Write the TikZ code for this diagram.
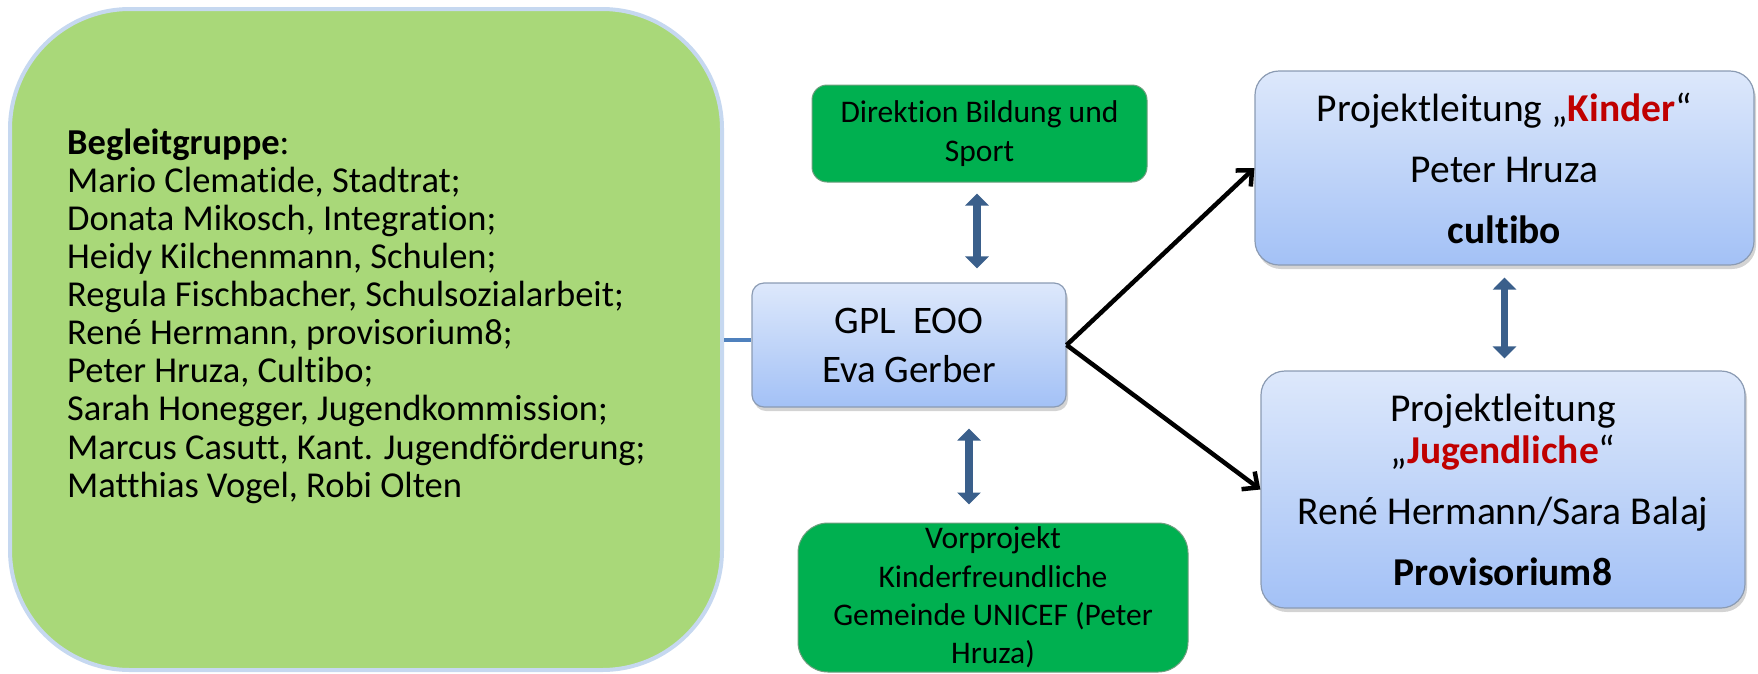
\documentclass[tikz,border=0pt]{standalone}
\usepackage{fontspec}
\setmainfont{Carlito}[Ligatures={TeX,NoCommon}]
\usetikzlibrary{arrows.meta,shadows}

\definecolor{leafgreen}{HTML}{A9D879}
\definecolor{leafedge}{HTML}{C6D8F0}
\definecolor{boxgreen}{HTML}{00B050}
\definecolor{greenedge}{HTML}{6E9E7E}
\definecolor{paletop}{HTML}{DDE8FB}
\definecolor{palebot}{HTML}{A3C1F6}
\definecolor{boxedge}{HTML}{8B9BB3}
\definecolor{steel}{HTML}{3A5F8B}
\definecolor{linkblue}{HTML}{4F81BD}
\definecolor{kred}{HTML}{C00000}

\begin{document}
\begin{tikzpicture}[
  x=1pt,y=-1pt,
  bluebox/.style={draw=boxedge,line width=1.2pt,rounded corners=#1,top color=paletop,bottom color=palebot,
    align=center,inner sep=0pt,drop shadow={shadow xshift=2pt,shadow yshift=-4pt,opacity=.35}},
  bluebox/.default=14pt,
  greenbox/.style={draw=greenedge,line width=1pt,rounded corners=#1,fill=boxgreen,align=center,inner sep=0pt,
    font=\fontsize{31.5}{38.3}\selectfont},
  greenbox/.default=16pt,
  dbl/.style={draw=steel,line width=7.5pt,arrows={Triangle[width=23pt,length=12pt]-Triangle[width=23pt,length=12pt]}},
  conn/.style={line width=4.5pt,-{Straight Barb[length=12pt,width=22pt]}},
]
  \useasboundingbox (0,0) rectangle (1758,673);

  % left group
  \node[draw=leafedge,line width=4pt,fill=leafgreen,rounded corners=120pt,minimum width=712pt,
    minimum height=661pt,inner sep=0pt] (begleit) at (366,339.5) {};
  \node[anchor=west,align=left,inner sep=0pt,font=\fontsize{36.5}{38.1}\selectfont] (gruppe) at (67,316)
    {\textbf{Begleitgruppe}:\\
     Mario Clematide, Stadtrat;\\
     Donata Mikosch, Integration;\\
     Heidy Kilchenmann, Schulen;\\
     Regula Fischbacher, Schulsozialarbeit;\\
     René Hermann, provisorium8;\\
     Peter Hruza, Cultibo;\\
     Sarah Honegger, Jugendkommission;\\
     Marcus Casutt, Kant. Jugendförderung;\\
     Matthias Vogel, Robi Olten};

  % middle column
  \node[bluebox=12pt,minimum width=314pt,minimum height=124pt,font=\fontsize{39}{49}\selectfont] (gpl) at (909,345)
    {GPL\ \ EOO\\Eva Gerber};
  \node[greenbox=15pt,minimum width=335pt,minimum height=97pt] (direktion) at (979.5,133.5)
    {Direktion Bildung und\\Sport};
  \node[greenbox=30pt,minimum width=390pt,minimum height=149pt] (vorprojekt) at (993,597.5)
    {Vorprojekt\\Kinderfreundliche\\Gemeinde UNICEF (Peter\\Hruza)};

  % right column
  \node[bluebox=24pt,minimum width=499pt,minimum height=194pt,font=\fontsize{39.5}{42}\selectfont] (kinder) at (1504.5,168)
    {Projektleitung „\textcolor{kred}{\textbf{Kinder}}“\\[19pt]Peter Hruza\\[19pt]\textbf{cultibo}};
  \node[bluebox=24pt,minimum width=484pt,minimum height=237pt,font=\fontsize{39.5}{42}\selectfont] (jugend) at (1503,489.5)
    {Projektleitung\\„\textcolor{kred}{\textbf{Jugendliche}}“\\[19pt]René Hermann/Sara Balaj\\[19pt]\textbf{Provisorium8}};

  % links
  \draw[linkblue,line width=4pt] (begleit.east) -- (begleit.east -| gpl.west);
  \draw[dbl] ([xshift=-2.5pt,yshift=-11pt]direktion.south) -- ([xshift=-2.5pt,yshift=14pt]direktion.south |- gpl.north);
  \draw[dbl] ([xshift=-24pt,yshift=-21pt]vorprojekt.north |- gpl.south) -- ([xshift=-24pt,yshift=18pt]vorprojekt.north);
  \draw[dbl] ([yshift=-12pt]kinder.south) -- ([yshift=12pt]kinder.south |- jugend.north);
  \draw[conn] (gpl.east) -- (kinder.west);
  \draw[conn] (gpl.east) -- (jugend.west);
\end{tikzpicture}
\end{document}
